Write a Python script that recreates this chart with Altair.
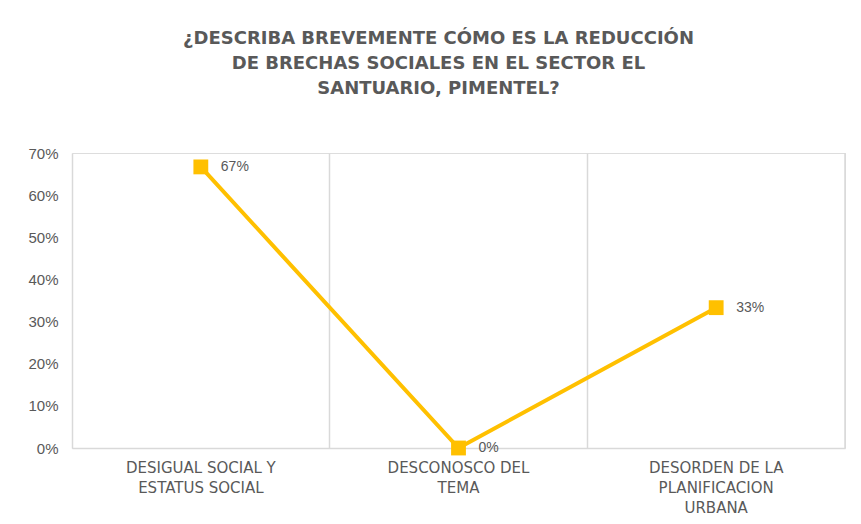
import altair as alt
import pandas as pd

categories = ["DESIGUAL SOCIAL Y|ESTATUS SOCIAL", "DESCONOSCO DEL|TEMA", "DESORDEN DE LA|PLANIFICACION|URBANA"]
values = [0.667, 0.0, 0.333]
labels = ["67%", "0%", "33%"]
title_lines = ["¿DESCRIBA BREVEMENTE CÓMO ES LA REDUCCIÓN", "DE BRECHAS SOCIALES EN EL SECTOR EL", "SANTUARIO, PIMENTEL?"]

df = pd.DataFrame({"cat": categories, "val": values, "lab": labels})

gray = "#595959"
font = "Liberation Sans"
wide = "DejaVu Sans"

x_main = alt.X("cat:N", sort=None, title=None,
               axis=alt.Axis(labelExpr="split(datum.value, '|')", labelAngle=0,
                             labelFont=wide, labelFontSize=15, labelColor=gray,
                             labelLineHeight=20, labelPadding=12, labelBaseline="top",
                             ticks=False, domain=True, domainColor="#d9d9d9", domainWidth=1.5,
                             grid=True, gridColor="#d9d9d9", gridWidth=1.5, bandPosition=0))
y_main = alt.Y("val:Q", title=None, scale=alt.Scale(domain=[0, 0.7]),
               axis=alt.Axis(values=[0, 0.1, 0.2, 0.3, 0.4, 0.5, 0.6, 0.7], format=".0%",
                             labelFont=font, labelFontSize=15, labelColor=gray,
                             labelPadding=14, ticks=False, domain=False, grid=False))

base = alt.Chart(df)
xs = alt.X("cat:N", sort=None)

line = base.mark_line(color="#FFC000", strokeWidth=4).encode(x=x_main, y=y_main)
pts = base.mark_square(color="#FFC000", size=220, opacity=1).encode(x=xs, y="val:Q")
txt = base.mark_text(align="left", dx=20, font=font, fontSize=14, color=gray).encode(
    x=xs, y="val:Q", text="lab:N")
edge = base.transform_filter(alt.datum.cat == categories[-1]).mark_rule(
    color="#d9d9d9", strokeWidth=1.5).encode(
    x=alt.X("cat:N", sort=None, bandPosition=1),
    y=alt.datum(0), y2=alt.datum(0.7))

chart = alt.layer(line, edge, pts, txt).properties(
    width=773, height=295,
    autosize=alt.AutoSizeParams(type="none"),
    padding={"left": 64, "top": 145, "right": 8, "bottom": 70},
    title=alt.TitleParams(text=title_lines, font=wide, fontSize=18, fontWeight="bold",
                          color=gray, lineHeight=25, anchor="middle", offset=48, dx=-20),
).configure_view(stroke=None).configure(background="white")

chart.save("out.html", embed_options={"renderer": "svg", "actions": False})
